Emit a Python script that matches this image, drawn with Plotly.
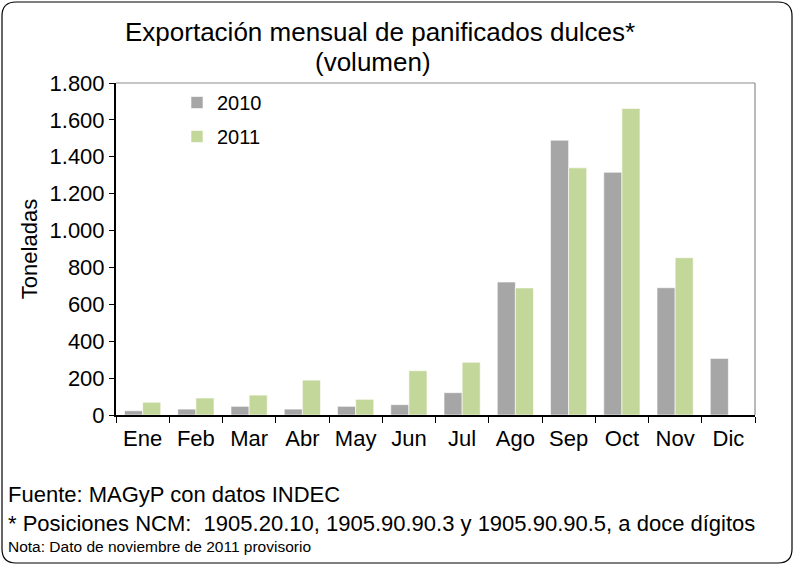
import plotly.graph_objects as go

months = ["Ene", "Feb", "Mar", "Abr", "May", "Jun", "Jul", "Ago", "Sep", "Oct", "Nov", "Dic"]
vals_2010 = [23, 32, 47, 32, 47, 56, 121, 721, 1490, 1316, 690, 307]
vals_2011 = [69, 92, 108, 189, 85, 240, 286, 689, 1340, 1662, 853, None]

FONT = "Liberation Sans, Arial, sans-serif"
W, H = 794, 565
L, R, T, B = 116, 39, 83, 150
PW, PH = W - L - R, H - T - B

def px(x):
    return (x - L) / PW

def py(y):
    return (H - B - y) / PH

fig = go.Figure()
fig.add_trace(go.Bar(name="2010", x=months, y=vals_2010, marker=dict(color="#A6A6A6", line=dict(color="#FFFFFF", width=0.6)), legendgroup="a"))
fig.add_trace(go.Bar(name="2011", x=months, y=vals_2011, marker=dict(color="#C4D79B", line=dict(color="#FFFFFF", width=0.6)), legendgroup="b"))

# outer rounded border
x0, x1, y0, y1, r = px(2), px(792), py(2), py(563), 14
rx, ry = r / PW, r / PH
path = (f"M {x0+rx},{y0} L {x1-rx},{y0} Q {x1},{y0} {x1},{y0-ry} "
        f"L {x1},{y1+ry} Q {x1},{y1} {x1-rx},{y1} L {x0+rx},{y1} "
        f"Q {x0},{y1} {x0},{y1+ry} L {x0},{y0-ry} Q {x0},{y0} {x0+rx},{y0} Z")

fig.update_layout(
    width=W, height=H,
    margin=dict(l=L, r=R, t=T, b=B),
    paper_bgcolor="white", plot_bgcolor="white",
    font=dict(family=FONT, color="#000000", size=22),
    separators=",.",
    barmode="group", bargap=0.32, bargroupgap=0.0,
    showlegend=True,
    legend=dict(x=px(177), y=py(83), xanchor="left", yanchor="top",
                bgcolor="rgba(0,0,0,0)", font=dict(size=20, family=FONT),
                traceorder="grouped", tracegroupgap=5, itemwidth=30),
    xaxis=dict(type="category", showline=True, linecolor="black", linewidth=2,
               ticks="outside", tickson="boundaries", ticklen=6, tickcolor="black",
               tickfont=dict(size=22), showgrid=False, ticklabelstandoff=3),
    yaxis=dict(range=[0, 1800], dtick=200, tickformat=",d", separatethousands=True,
               showline=True, linecolor="black", linewidth=2,
               ticks="outside", ticklen=5, tickcolor="black", showgrid=False,
               zeroline=False, tickfont=dict(size=22),
               title=dict(text="Toneladas", font=dict(size=22), standoff=6)),
    shapes=[
        dict(type="path", xref="paper", yref="paper", path=path,
             line=dict(color="#000000", width=1.2), fillcolor="rgba(0,0,0,0)", layer="below"),
        dict(type="line", xref="paper", yref="paper", x0=0, x1=1, y0=1, y1=1,
             line=dict(color="#8C8C8C", width=1.2)),
        dict(type="line", xref="paper", yref="paper", x0=1, x1=1, y0=0, y1=1,
             line=dict(color="#8C8C8C", width=1.2)),
    ],
    annotations=[
        dict(text="Exportación mensual de panificados dulces*", x=px(380), y=py(32),
             xref="paper", yref="paper", showarrow=False, font=dict(size=26), xanchor="center", yanchor="middle"),
        dict(text="(volumen)", x=px(373), y=py(62),
             xref="paper", yref="paper", showarrow=False, font=dict(size=26), xanchor="center", yanchor="middle"),
        dict(text="Fuente: MAGyP con datos INDEC", x=px(6), y=py(494),
             xref="paper", yref="paper", showarrow=False, font=dict(size=22), xanchor="left", yanchor="middle"),
        dict(text="* Posiciones NCM:  1905.20.10, 1905.90.90.3 y 1905.90.90.5, a doce dígitos", x=px(6), y=py(523),
             xref="paper", yref="paper", showarrow=False, font=dict(size=22), xanchor="left", yanchor="middle"),
        dict(text="Nota: Dato de noviembre de 2011 provisorio", x=px(6), y=py(546),
             xref="paper", yref="paper", showarrow=False, font=dict(size=15.5), xanchor="left", yanchor="middle"),
    ],
)

fig.write_html("out.html", config={"displayModeBar": False},
               post_script="document.body.style.margin='0';document.body.style.padding='0';")
